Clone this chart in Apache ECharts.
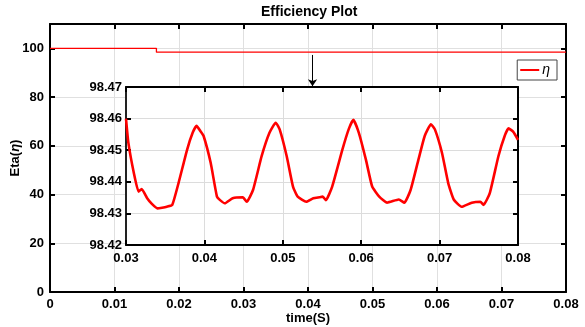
<!DOCTYPE html>
<html>
<head>
<meta charset="utf-8">
<script src="https://cdn.jsdelivr.net/npm/echarts@6/dist/echarts.min.js"></script>
<style>html,body{margin:0;padding:0;background:#fff}#c{width:585px;height:327px}</style>
</head>
<body>
<div id="c"></div>
<script>
// Main plot data
var mainTime = [0, 0.0165, 0.0165, 0.08];
var mainEta = [100, 100, 98.44, 98.44];
// Inset (zoom) data
var insetTime = [0.0300,0.0303,0.0310,0.0316,0.0320,0.0327,0.0333,0.0340,0.0346,0.0352,0.0359,0.0367,0.0378,0.0385,0.0390,0.0395,0.0399,0.0408,0.0416,0.0420,0.0426,0.0436,0.0449,0.0454,0.0462,0.0473,0.0483,0.0491,0.0496,0.0505,0.0513,0.0519,0.0530,0.0539,0.0547,0.0551,0.0555,0.0563,0.0576,0.0584,0.0590,0.0597,0.0606,0.0614,0.0623,0.0633,0.0648,0.0655,0.0663,0.0673,0.0681,0.0689,0.0694,0.0703,0.0711,0.0718,0.0728,0.0741,0.0752,0.0756,0.0764,0.0775,0.0783,0.0788,0.0794,0.0800];
var insetEta = [98.4600,98.4524,98.4428,98.4369,98.4377,98.4348,98.4330,98.4316,98.4318,98.4321,98.4327,98.4396,98.4502,98.4555,98.4577,98.4560,98.4545,98.4460,98.4353,98.4342,98.4332,98.4348,98.4351,98.4337,98.4374,98.4481,98.4555,98.4587,98.4566,98.4481,98.4385,98.4353,98.4337,98.4348,98.4351,98.4353,98.4342,98.4385,98.4502,98.4566,98.4596,98.4555,98.4470,98.4385,98.4353,98.4334,98.4344,98.4334,98.4374,98.4470,98.4545,98.4582,98.4566,98.4492,98.4396,98.4344,98.4321,98.4334,98.4337,98.4327,98.4364,98.4481,98.4545,98.4569,98.4558,98.4533];
// Axis settings
var mainXTicks = {min: 0, max: 0.08, interval: 0.01};
var mainYTicks = {min: 0, max: 110, interval: 20};
var insetXTicks = {min: 0.03, max: 0.08, interval: 0.01};
var insetYTicks = {min: 98.42, max: 98.47, interval: 0.01};
// Arrow annotation (data coordinates)
var arrowX = 0.0407, arrowFrom = 97.3, arrowTo = 84.5;

var FONT = 'Liberation Sans, Arial, sans-serif';
var lbl = {color:'#000', fontFamily:FONT, fontWeight:'bold', fontSize:13};
function zip(a,b){return a.map(function(v,i){return [v,b[i]];});}
function fmtX(v){ return Math.abs(v) < 1e-9 ? '0' : v.toFixed(2); }
function boxAxis(extra){
  return Object.assign({
    type:'value', axisLabel:{show:false}, splitLine:{show:false},
    axisLine:{show:true, onZero:false, lineStyle:{color:'#000', width:2}},
    axisTick:{show:true, inside:true, length:5, lineStyle:{color:'#000', width:2}}
  }, extra);
}

var chart = echarts.init(document.getElementById('c'), null, {renderer:'canvas'});
chart.setOption({
  animation:false,
  backgroundColor:'#fff',
  title:{text:'Efficiency Plot', left:261, top:5, padding:0,
    textStyle:{fontFamily:FONT, fontWeight:'bold', fontSize:14, color:'#000'}},
  legend:{data:[{name:'η', icon:'rect'}], right:28, top:60, padding:[3,7,3,3],
    itemWidth:19, itemHeight:2, itemGap:0, borderColor:'#444', borderWidth:1, backgroundColor:'#fff',
    textStyle:{fontFamily:FONT, fontStyle:'italic', fontSize:14, color:'#000', padding:[0,0,0,-2]}},
  grid:[
    {left:50, right:19, top:24, bottom:35, containLabel:false, outerBoundsMode:'none'},
    {left:126, right:67, top:87, bottom:82, containLabel:false, outerBoundsMode:'none', show:true, backgroundColor:'#fff', borderWidth:0, z:1}
  ],
  xAxis:[
    {type:'value', gridIndex:0, min:mainXTicks.min, max:mainXTicks.max, interval:mainXTicks.interval,
      name:'time(S)', nameLocation:'middle', nameGap:20, nameMoveOverlap:false, nameTextStyle:lbl,
      axisLabel:Object.assign({margin:6, formatter:fmtX}, lbl),
      axisLine:{onZero:false, lineStyle:{color:'#000', width:2}},
      axisTick:{inside:true, length:5, lineStyle:{color:'#000', width:2}},
      splitLine:{show:true, lineStyle:{color:'#e0e0e0', width:1}}},
    boxAxis({gridIndex:0, position:'top', min:mainXTicks.min, max:mainXTicks.max, interval:mainXTicks.interval}),
    {type:'value', gridIndex:1, min:insetXTicks.min, max:insetXTicks.max, interval:insetXTicks.interval, z:2,
      axisLabel:Object.assign({margin:7, formatter:function(v){return v.toFixed(2);}}, lbl),
      axisLine:{onZero:false, lineStyle:{color:'#000', width:2}},
      axisTick:{inside:true, length:5, lineStyle:{color:'#000', width:2}},
      splitLine:{show:true, lineStyle:{color:'#dcdcdc', width:1}}},
    boxAxis({gridIndex:1, position:'top', z:2, min:insetXTicks.min, max:insetXTicks.max, interval:insetXTicks.interval})
  ],
  yAxis:[
    {type:'value', gridIndex:0, min:mainYTicks.min, max:mainYTicks.max, interval:mainYTicks.interval,
      name:'Eta({i|η})', nameLocation:'middle', nameGap:28, nameMoveOverlap:false,
      nameTextStyle:Object.assign({rich:{i:{fontFamily:FONT, fontStyle:'italic', fontWeight:'bold', fontSize:13, color:'#000'}}}, lbl),
      axisLabel:Object.assign({margin:6, showMaxLabel:false, formatter:function(v){return v>100?'':String(v);}}, lbl),
      axisLine:{onZero:false, lineStyle:{color:'#000', width:2}},
      axisTick:{inside:true, length:5, lineStyle:{color:'#000', width:2}},
      splitLine:{show:true, lineStyle:{color:'#e0e0e0', width:1}}},
    boxAxis({gridIndex:0, position:'right', min:mainYTicks.min, max:mainYTicks.max, interval:mainYTicks.interval}),
    {type:'value', gridIndex:1, min:insetYTicks.min, max:insetYTicks.max, interval:insetYTicks.interval, z:2,
      axisLabel:Object.assign({margin:4, formatter:function(v){return v.toFixed(2);}}, lbl),
      axisLine:{onZero:false, lineStyle:{color:'#222', width:2}},
      axisTick:{inside:true, length:5, lineStyle:{color:'#000', width:2}},
      splitLine:{show:true, lineStyle:{color:'#dcdcdc', width:1}}},
    boxAxis({gridIndex:1, position:'right', z:2, min:insetYTicks.min, max:insetYTicks.max, interval:insetYTicks.interval})
  ],
  series:[
    {name:'η', type:'line', xAxisIndex:0, yAxisIndex:0, data:zip(mainTime, mainEta),
      showSymbol:false, symbol:'none', lineStyle:{color:'#ff0000', width:1.3}, itemStyle:{color:'#ff0000'},
      markLine:{silent:true, symbol:['none','arrow'], symbolSize:7, label:{show:false},
        lineStyle:{color:'#000', width:1, type:'solid'}, itemStyle:{color:'#000'},
        data:[[{coord:[arrowX, arrowFrom]},{coord:[arrowX, arrowTo]}]]}},
    {name:'inset', type:'line', xAxisIndex:2, yAxisIndex:2, data:zip(insetTime, insetEta), z:3,
      showSymbol:false, symbol:'none', smooth:0.15, lineStyle:{color:'#ff0000', width:2.6}}
  ]
});
</script>
</body>
</html>
